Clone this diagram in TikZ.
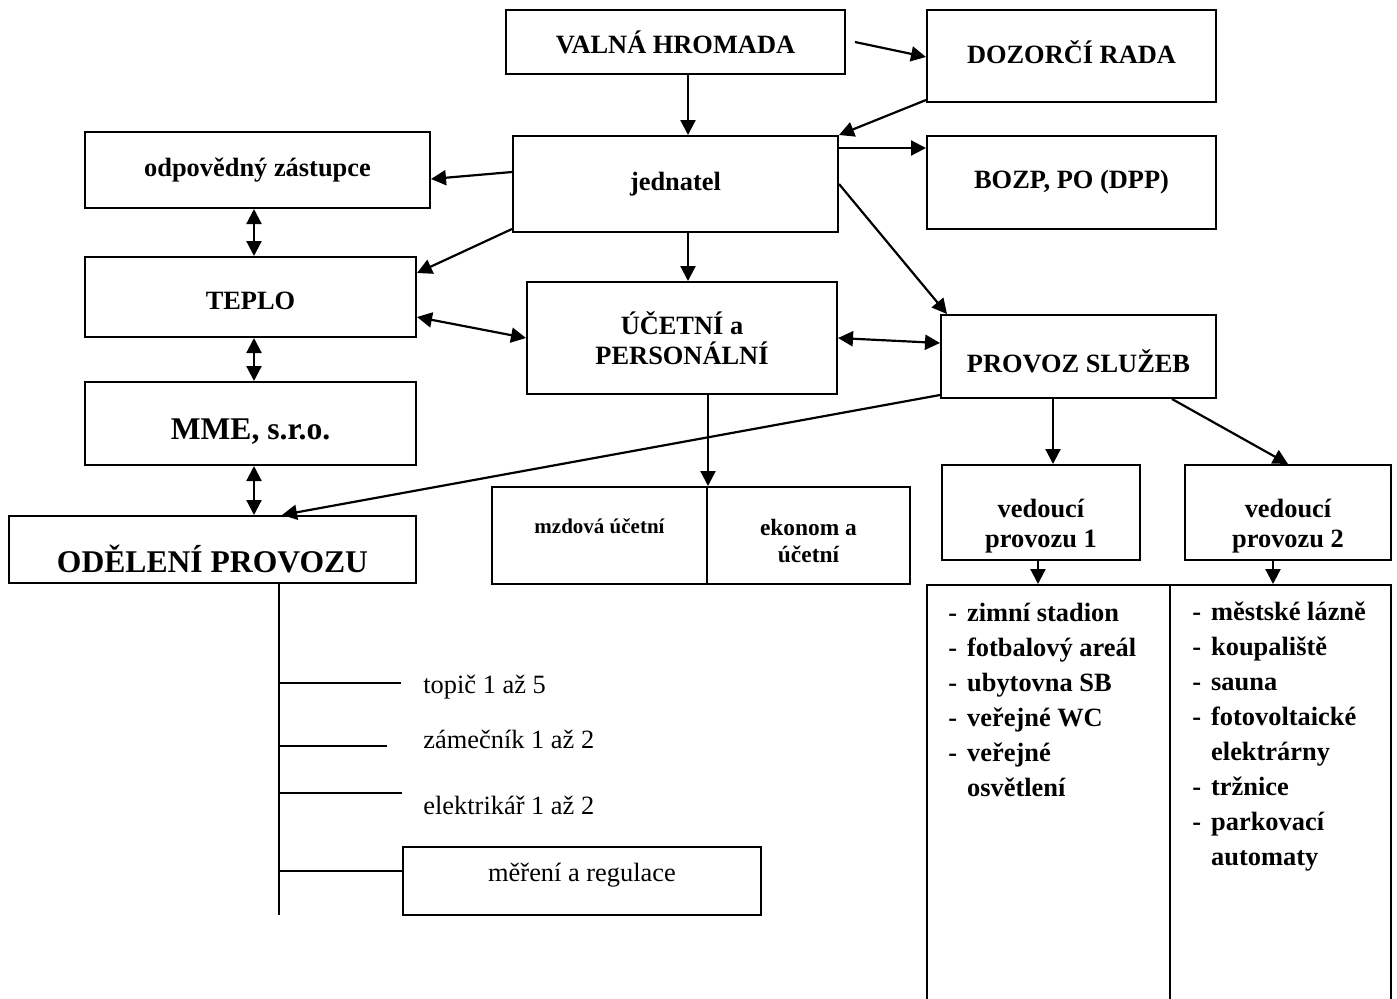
\documentclass[tikz,border=0pt]{standalone}
\usepackage{fontspec}
\setmainfont{Liberation Serif}
\usetikzlibrary{arrows.meta}
\tikzset{
  box/.style={rectangle,draw,line width=1pt,inner sep=2pt,align=center,font=\bfseries\fontsize{13.2}{15}\selectfont},
  big/.style={font=\bfseries\fontsize{15.8}{18}\selectfont},
  arr/.style={-{Triangle[length=7.5pt,width=7.5pt]},line width=1.1pt},
  both/.style={{Triangle[length=7.5pt,width=7.5pt]}-{Triangle[length=7.5pt,width=7.5pt]},line width=1.1pt},
  branch/.style={line width=0.75pt},
  plain/.style={font=\fontsize{13.2}{15}\selectfont,inner sep=0pt},
  list/.style={anchor=base west,inner sep=0pt,font=\bfseries\fontsize{13.2}{17.5}\selectfont}
}

\begin{document}
\begin{tikzpicture}[x=0.5pt,y=-0.5pt]
\useasboundingbox (0,0) rectangle (1397,998);
\clip (0,0) rectangle (1397,998);

% top row
\node (VH) at (675.5,42) [box,minimum width=169.5pt,minimum height=32pt] {VALNÁ HROMADA};
\node (DR) at (1071.5,56) [box,minimum width=144.5pt,minimum height=46pt,text height=7pt,text depth=0pt] {DOZORČÍ RADA};
\node (JED) at (675.5,184) [box,minimum width=162.5pt,minimum height=48pt] {jednatel};
\node (BOZP) at (1071.5,182.5) [box,minimum width=144.5pt,minimum height=46.5pt] {BOZP, PO (DPP)};

% left column
\node (ODP) at (257.5,170) [box,minimum width=172.5pt,minimum height=38pt] {odpovědný zástupce};
\node (TEPLO) at (250.5,297) [box,minimum width=165.5pt,minimum height=40pt,text height=12pt,text depth=0pt] {TEPLO};
\node (MME) at (250.5,423.5) [box,big,minimum width=165.5pt,minimum height=41.5pt,text height=15.5pt,text depth=0pt] {MME, s.r.o.};
\node (ODEL) at (212.5,549.5) [box,big,minimum width=203.5pt,minimum height=33.5pt,text height=22.5pt,text depth=0pt] {ODĚLENÍ PROVOZU};

% middle
\node (UP) at (682,338) [box,minimum width=155pt,minimum height=56pt] {ÚČETNÍ a\\PERSONÁLNÍ};
\node (PS) at (1078.5,356.5) [box,minimum width=137.5pt,minimum height=41.5pt,text height=15.5pt,text depth=0pt] {PROVOZ SLUŽEB};
\node (MZ) at (599.5,535.5) [box,minimum width=107.5pt,minimum height=48.5pt,font=\bfseries\fontsize{10.5}{12}\selectfont,text height=7.5pt,text depth=10pt] {mzdová účetní};
\node (EK) at (808.5,535.5) [box,minimum width=101.5pt,minimum height=48.5pt,font=\bfseries\fontsize{11.7}{13.5}\selectfont] {\rule{0pt}{14pt}ekonom a\\účetní};

% right side
\node (VP1) at (1041,512.5) [box,minimum width=99pt,minimum height=47.5pt] {\rule{0pt}{22.3pt}vedoucí\\provozu 1};
\node (VP2) at (1288,512.5) [box,minimum width=103pt,minimum height=47.5pt] {\rule{0pt}{22.3pt}vedoucí\\provozu 2};
\node (LA) at (1048.5,584) [box,anchor=north,minimum width=121.5pt,minimum height=215pt] {};
\node (LB) at (1280.5,584) [box,anchor=north,minimum width=110.5pt,minimum height=215pt] {};
\node (LTA) at (948,621) [list] {\begin{tabular}[t]{@{}l@{\hspace{5pt}}l@{}}
-&zimní stadion\\
-&fotbalový areál\\
-&ubytovna SB\\
-&veřejné WC\\
-&veřejné\\
&osvětlení
\end{tabular}};
\node (LTB) at (1192,620) [list] {\begin{tabular}[t]{@{}l@{\hspace{5pt}}l@{}}
-&městské lázně\\
-&koupaliště\\
-&sauna\\
-&fotovoltaické\\
&elektrárny\\
-&tržnice\\
-&parkovací\\
&automaty
\end{tabular}};

% oddeleni provozu
\coordinate (TR) at (279,915);
\coordinate (B1) at (401,683);
\coordinate (B2) at (387,746);
\coordinate (B3) at (402,793);
\node (T1) at (423,693) [plain,anchor=base west] {topič 1 až 5};
\node (T2) at (423,748) [plain,anchor=base west] {zámečník 1 až 2};
\node (T3) at (423,814) [plain,anchor=base west] {elektrikář 1 až 2};
\node (MR) at (582,881) [box,font=\fontsize{13.2}{15}\selectfont,minimum width=179pt,minimum height=34pt,text height=9pt,text depth=9pt] {měření a regulace};
\coordinate (B4) at ([yshift=5pt]MR.west);
\draw[branch] (ODEL.south -| TR) -- (TR);
\draw[branch] (B1 -| TR) -- (B1);
\draw[branch] (B2 -| TR) -- (B2);
\draw[branch] (B3 -| TR) -- (B3);
\draw[branch] (B4 -| TR) -- (B4);

% connectors
\coordinate (AX1) at (688,0);
\coordinate (AX2) at (254,0);
\coordinate (AX3) at (1053,0);
\coordinate (AX4) at (1038,0);
\coordinate (AX5) at (1273,0);
\coordinate (J1) at ([yshift=-6.5pt]JED.north east);
\draw[arr] (VH.south -| AX1) -- (JED.north -| AX1);
\draw[arr] ([xshift=4.5pt]VH.east) -- ([yshift=-0.5pt]DR.west);
\draw[arr] ([yshift=1.5pt]DR.south west) -- (JED.north east);
\draw[arr] (J1) -- (J1 -| BOZP.west);
\draw[arr] (JED.east) -- ([xshift=3.5pt]PS.north west);
\draw[arr] ([yshift=6pt]JED.west) -- ([yshift=-4.5pt]ODP.east);
\draw[arr] ([yshift=2pt]JED.south west) -- ([yshift=12pt]TEPLO.east);
\draw[arr] (JED.south -| AX1) -- (UP.north -| AX1);
\draw[both] ([yshift=-10pt]TEPLO.east) -- (UP.west);
\draw[both] (UP.east) -- ([yshift=6.75pt]PS.west);
\draw[both] (ODP.south -| AX2) -- (TEPLO.north -| AX2);
\draw[both] (TEPLO.south -| AX2) -- (MME.north -| AX2);
\draw[both] (MME.south -| AX2) -- (ODEL.north -| AX2);
\draw[arr] ([yshift=2pt]PS.south west) -- ([xshift=34.75pt]ODEL.north);
\draw[arr] (UP.south -| MZ.east) -- (MZ.north east);
\draw[arr] (PS.south -| AX3) -- (VP1.north -| AX3);
\draw[arr] ([xshift=-22.5pt]PS.south east) -- (VP2.north);
\draw[arr] (VP1.south -| AX4) -- (LA.north -| AX4);
\draw[arr] (VP2.south -| AX5) -- (LB.north -| AX5);
\end{tikzpicture}
\end{document}
